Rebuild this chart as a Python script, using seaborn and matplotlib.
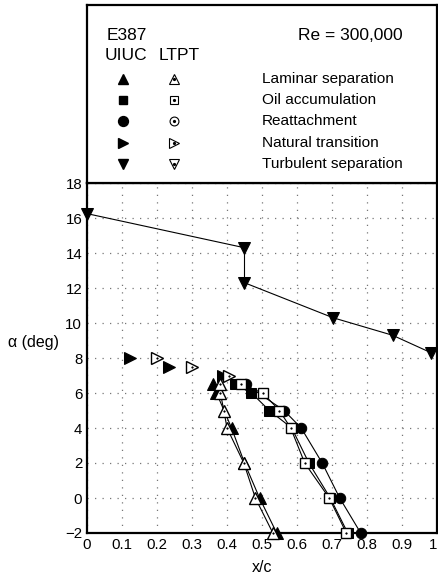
import matplotlib
matplotlib.use("Agg")
import matplotlib.pyplot as plt
import seaborn as sns
import numpy as np

# ---------------- data ----------------
lam_uiuc_x = [0.542, 0.493, 0.450, 0.413, 0.370, 0.359]
lam_uiuc_a = [-2, 0, 2, 4, 6, 6.5]
lam_ltpt_x = [0.531, 0.481, 0.448, 0.400, 0.391, 0.381, 0.381]
lam_ltpt_a = [-2, 0, 2, 4, 5, 6, 6.5]

oil_uiuc_x = [0.745, 0.695, 0.634, 0.585, 0.521, 0.470, 0.422]
oil_uiuc_a = [-2, 0, 2, 4, 5, 6, 6.5]
oil_ltpt_x = [0.741, 0.692, 0.622, 0.582, 0.550, 0.502, 0.440]
oil_ltpt_a = [-2, 0, 2, 4, 5, 6, 6.5]

reat_uiuc_x = [0.782, 0.722, 0.672, 0.612, 0.563, 0.453]
reat_uiuc_a = [-2, 0, 2, 4, 5, 6.5]

trans_uiuc_x = [0.122, 0.234, 0.390]
trans_uiuc_a = [8, 7.5, 7]
trans_ltpt_x = [0.200, 0.300, 0.405]
trans_ltpt_a = [8, 7.5, 7]

turb_uiuc_x = [0.0, 0.45, 0.45, 0.703, 0.873, 0.983]
turb_uiuc_a = [16.25, 14.3, 12.3, 10.3, 9.3, 8.3]

x_ticks = [0, 0.1, 0.2, 0.3, 0.4, 0.5, 0.6, 0.7, 0.8, 0.9, 1]
x_tick_labels = ["0", "0.1", "0.2", "0.3", "0.4", "0.5", "0.6", "0.7", "0.8", "0.9", "1"]
y_ticks = [-2, 0, 2, 4, 6, 8, 10, 12, 14, 16, 18]

legend_labels = ["Laminar separation", "Oil accumulation", "Reattachment",
                 "Natural transition", "Turbulent separation"]
legend_markers = ["^", "s", "o", ">", "v"]

# ---------------- style ----------------
sns.set_theme(style="white")
plt.rcParams['font.family'] = ['Liberation Sans', 'DejaVu Sans']
plt.rcParams['axes.unicode_minus'] = True

W, H = 439, 578
fig = plt.figure(figsize=(W / 100, H / 100), dpi=100)
left, right = 87 / W, 437 / W
ax_bottom, ax_top = 1 - 533 / H, 1 - 183 / H
leg_top = 1 - 5 / H
ax = fig.add_axes([left, ax_bottom, right - left, ax_top - ax_bottom])
lax = fig.add_axes([left, ax_top, right - left, leg_top - ax_top])

ms = {"^": 8, "s": 6.5, "o": 7.5, ">": 8, "v": 8}
line_kw = dict(color="black", linewidth=0.8, sort=False, estimator=None)


def filled(x, y, m, line=True, z=3):
    sns.lineplot(x=x, y=y, ax=ax, marker=m, markersize=ms[m],
                 markerfacecolor="black", markeredgecolor="black",
                 linestyle="-" if line else "none", zorder=z, clip_on=False,
                 **line_kw)


def hollow(x, y, m, line=True, z=4):
    sns.lineplot(x=x, y=y, ax=ax, marker=m, markersize=ms[m],
                 markerfacecolor="white", markeredgecolor="black",
                 markeredgewidth=1.0,
                 linestyle="-" if line else "none", zorder=z, clip_on=False,
                 **line_kw)
    sns.scatterplot(x=x, y=y, ax=ax, marker="o", s=1.5, color="black",
                    edgecolor="black", linewidth=0.3, zorder=z + 0.5, clip_on=False)


filled(lam_uiuc_x, lam_uiuc_a, "^")
filled(oil_uiuc_x, oil_uiuc_a, "s")
filled(reat_uiuc_x, reat_uiuc_a, "o")
filled(trans_uiuc_x, trans_uiuc_a, ">", line=False)
filled(turb_uiuc_x, turb_uiuc_a, "v")
hollow(lam_ltpt_x, lam_ltpt_a, "^")
hollow(oil_ltpt_x, oil_ltpt_a, "s")
hollow(trans_ltpt_x, trans_ltpt_a, ">", line=False)

ax.set_xlim(0, 1)
ax.set_ylim(-2, 18)
ax.set_xticks(x_ticks)
ax.set_xticklabels(x_tick_labels)
ax.set_yticks(y_ticks)
ax.tick_params(axis="both", length=0, labelsize=10.8, colors="black", pad=3.5)
ax.get_xticklabels()[-1].set_horizontalalignment("right")
ax.grid(True, color="#777777", linestyle=(0, (1, 5)), linewidth=0.9)
ax.set_axisbelow(True)
for s in ax.spines.values():
    s.set_color("black")
    s.set_linewidth(1.6)
ax.set_xlabel("x/c", fontsize=11.5, color="black", labelpad=6)
ax.set_ylabel("")
fig.text(34 / W, 1 - 343 / H, "α (deg)", fontsize=11.5, ha="center", va="center",
         color="black")

# ---------------- legend box ----------------
lax.set_xlim(0, 1)
lax.set_ylim(0, 1)
lax.set_xticks([])
lax.set_yticks([])
for s in lax.spines.values():
    s.set_color("black")
    s.set_linewidth(1.6)
hfs = 12.5
fs = 11.1
lax.text(0.057, 0.831, "E387", fontsize=hfs, ha="left", va="center", color="black")
lax.text(0.903, 0.831, "Re = 300,000", fontsize=hfs, ha="right", va="center", color="black")
lax.text(0.051, 0.719, "UIUC", fontsize=hfs, ha="left", va="center", color="black")
lax.text(0.206, 0.719, "LTPT", fontsize=hfs, ha="left", va="center", color="black")
rows = [0.584, 0.466, 0.348, 0.225, 0.107]
for lab, m, yy in zip(legend_labels, legend_markers, rows):
    lax.plot([0.103], [yy], marker=m, markersize=ms[m] * 0.95, color="black",
             linestyle="none")
    lax.plot([0.249], [yy], marker=m, markersize=ms[m] * 0.85, markerfacecolor="white",
             markeredgecolor="black", markeredgewidth=0.8, linestyle="none")
    lax.plot([0.249], [yy], marker="o", markersize=1.3, color="black", linestyle="none")
    lax.text(0.5, yy, lab, fontsize=fs, ha="left", va="center", color="black")

fig.savefig("out.png", dpi=100)
